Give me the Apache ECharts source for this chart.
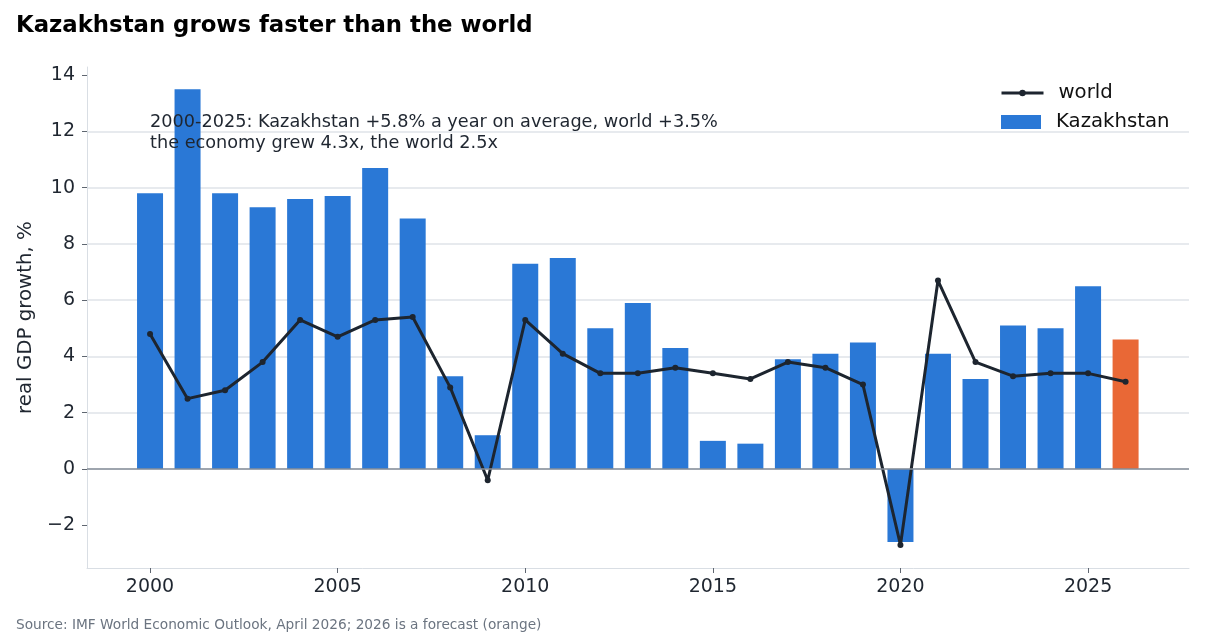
<!DOCTYPE html>
<html>
<head>
<meta charset="utf-8">
<script src="https://cdn.jsdelivr.net/npm/echarts@6/dist/echarts.min.js"></script>
<style>
    html, body { margin: 0; padding: 0; background: #fff; }
    #chart { width: 1210px; height: 638px; }
</style>
</head>
<body>
<div id="chart"></div>
<script>
// data
var years = [2000, 2001, 2002, 2003, 2004, 2005, 2006, 2007, 2008, 2009, 2010, 2011, 2012, 2013,
    2014, 2015, 2016, 2017, 2018, 2019, 2020, 2021, 2022, 2023, 2024, 2025, 2026];
var kazakhstan = [9.8, 13.5, 9.8, 9.3, 9.6, 9.7, 10.7, 8.9, 3.3, 1.2, 7.3, 7.5, 5.0, 5.9,
    4.3, 1.0, 0.9, 3.9, 4.1, 4.5, -2.6, 4.1, 3.2, 5.1, 5.0, 6.5, 4.6];
var world = [4.8, 2.5, 2.8, 3.8, 5.3, 4.7, 5.3, 5.4, 2.9, -0.4, 5.3, 4.1, 3.4, 3.4,
    3.6, 3.4, 3.2, 3.8, 3.6, 3.0, -2.7, 6.7, 3.8, 3.3, 3.4, 3.4, 3.1];
var forecastYear = 2026;
var xTicks = [2000, 2005, 2010, 2015, 2020, 2025];
var yTicks = [-2, 0, 2, 4, 6, 8, 10, 12, 14];

var FONT = 'DejaVu Sans';
var BLUE = '#2a78d6';
var ORANGE = '#e96836';
var DARK = '#1d252f';

var chart = echarts.init(document.getElementById('chart'));

// bars: the forecast year gets orange
var barData = years.map(function (y, i) {
    var item = { value: [y, kazakhstan[i]] };
    if (y === forecastYear) item.itemStyle = { color: ORANGE };
    return item;
});
var lineData = years.map(function (y, i) { return [y, world[i]]; });

var legendText = { fontFamily: FONT, fontSize: 19.7, color: '#111', padding: [0, 0, 0, 10] };

chart.setOption({
    animation: false,
    textStyle: { fontFamily: FONT },
    title: {
        text: 'Kazakhstan grows faster than the world',
        left: 11,
        top: 10,
        textStyle: { fontFamily: FONT, fontSize: 22.8, fontWeight: 'bold', color: '#000' }
    },
    // two legends so the line icon keeps a small dot
    legend: [
        {
            data: ['world'],
            left: 995,
            top: 78,
            itemWidth: 42,
            itemHeight: 8,
            lineStyle: { width: 3 },
            textStyle: legendText
        },
        {
            data: [{ name: 'Kazakhstan', icon: 'rect' }],
            left: 996,
            top: 107,
            itemWidth: 40,
            itemHeight: 14,
            textStyle: legendText
        }
    ],
    grid: { left: 87, right: 21, top: 67, bottom: 70 },
    xAxis: {
        type: 'value',
        min: 1998.32,
        max: 2027.69,
        splitNumber: 6,
        axisLine: { onZero: false, lineStyle: { color: '#d9dee4', width: 1 } },
        axisTick: { show: true, length: 5, customValues: xTicks, lineStyle: { color: '#5f6670' } },
        axisLabel: {
            customValues: xTicks,
            fontSize: 19, color: '#1f2630', margin: 10,
            formatter: function (v) { return String(v); }
        },
        splitLine: { show: false }
    },
    yAxis: {
        type: 'value',
        min: -3.52,
        max: 14.29,
        splitNumber: 9,
        name: 'real GDP growth, %',
        nameLocation: 'middle',
        nameGap: 49,
        nameTextStyle: { fontFamily: FONT, fontSize: 19.8, color: '#1f2630' },
        axisLine: { show: true, lineStyle: { color: '#d9dee4', width: 1 } },
        axisTick: { show: true, length: 5, customValues: yTicks, lineStyle: { color: '#5f6670' } },
        axisLabel: {
            customValues: yTicks,
            fontSize: 19, color: '#1f2630', margin: 12,
            formatter: function (v) { return v < 0 ? '\u2212' + Math.abs(v) : String(v); }
        },
        splitLine: { show: true, showMinLine: false, showMaxLine: false, lineStyle: { color: '#dfe3e8', width: 1.5 } }
    },
    graphic: [
        {
            type: 'text',
            left: 150,
            top: 112,
            z: 100,
            style: {
                text: '2000-2025: Kazakhstan +5.8% a year on average, world +3.5%\nthe economy grew 4.3x, the world 2.5x',
                font: '17.7px "DejaVu Sans"',
                fill: '#1f2630',
                lineHeight: 21
            }
        },
        {
            type: 'text',
            left: 16,
            top: 618,
            z: 100,
            style: {
                text: 'Source: IMF World Economic Outlook, April 2026; 2026 is a forecast (orange)',
                font: '13.7px "DejaVu Sans"',
                fill: '#6b7480'
            }
        }
    ],
    series: [
        {
            name: 'Kazakhstan',
            type: 'bar',
            barWidth: 26,
            itemStyle: { color: BLUE },
            data: barData,
            markLine: {
                silent: true,
                symbol: 'none',
                label: { show: false },
                lineStyle: { color: '#868e98', width: 1.5, type: 'solid' },
                data: [{ yAxis: 0 }]
            },
            z: 2
        },
        {
            name: 'world',
            type: 'line',
            data: lineData,
            symbol: 'circle',
            symbolSize: 6,
            itemStyle: { color: DARK },
            lineStyle: { color: DARK, width: 3 },
            z: 3
        }
    ]
});
</script>
</body>
</html>
